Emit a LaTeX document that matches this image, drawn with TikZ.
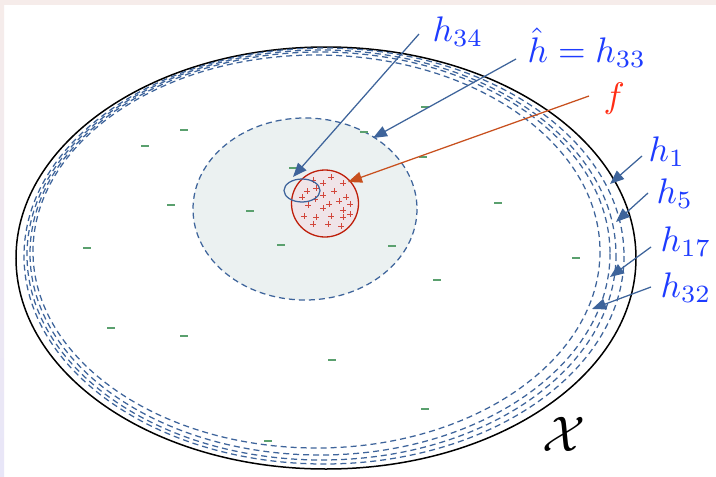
\documentclass[tikz,border=0pt]{standalone}
\usepackage{amsmath}
\usetikzlibrary{arrows.meta}
\definecolor{bandpink}{RGB}{246,236,234}
\definecolor{bandlav}{RGB}{232,230,248}
\definecolor{hblue}{RGB}{62,100,155}
\definecolor{lblue}{RGB}{30,60,255}
\definecolor{fred}{RGB}{255,45,20}
\definecolor{farrow}{RGB}{200,80,30}
\definecolor{circred}{RGB}{190,30,10}
\definecolor{circfill}{RGB}{240,228,232}
\definecolor{innerfill}{RGB}{235,241,241}
\definecolor{plusred}{RGB}{210,70,60}
\definecolor{minusgreen}{RGB}{90,160,110}
\tikzset{
  hdash/.style={draw=hblue, line width=1.25pt, dash pattern=on 6pt off 4pt},
  harrow/.style={draw=hblue, line width=1.25pt, -{Triangle[length=14pt,width=11pt]}},
  farr/.style={draw=farrow, line width=1.25pt, -{Triangle[length=14pt,width=11pt]}},
  lbl/.style={text=lblue, inner sep=0pt, anchor=base west, scale=3.55},
  pluss/.style={draw=plusred, line width=0.6pt},
  minuss/.style={draw=minusgreen, line width=1.2pt}
}
\begin{document}
\begin{tikzpicture}[x=1pt,y=-1pt]
\useasboundingbox (0,0) rectangle (716,477);
\fill[white] (0,0) rectangle (716,477);
\fill[bandpink] (0,0) rectangle (716,5);
\shade[top color=bandpink, bottom color=bandlav] (0,0) rectangle (4,477);
% outer space
\draw[black, line width=1.5pt] (326,258) ellipse [x radius=310, y radius=211];
% hypothesis ellipses
\draw[hdash] (324,256) ellipse [x radius=300, y radius=208];
\draw[hdash] (321.5,255) ellipse [x radius=294.5, y radius=205];
\draw[hdash] (320,253.5) ellipse [x radius=290, y radius=201.5];
\draw[hdash] (316.5,251.5) ellipse [x radius=283.5, y radius=196.5];
% inner region
\draw[hdash, fill=innerfill] (305,209) ellipse [x radius=112, y radius=91];
% minus signs
\foreach \p in {(184,130),(145,146),(171,205),(87,248),(111,328),(184,336),
  (364,132),(293,168),(250,211),(281,245),(392,246),(437,280),(425,107),
  (423,157),(425,409),(498,203),(576,258),(332,360),(268,441)}
  \draw[minuss] \p +(-4,0) -- +(4,0);
% target
\draw[circred, line width=1.3pt, fill=circfill] (325,203.5) circle [radius=33.5];
\foreach \p in {(313,180),(323,183),(331,177),(343,183),(307,191),(316,188),
  (334,191),(302,197),(315,199),(323,195),(346,197),(308,205),(329,204),
  (339,201),(350,204),(323,208),(343,210),(304,216),(316,217),(331,216),
  (343,217),(350,214),(313,224),(328,224),(341,226)}
  \draw[pluss] \p +(-3,0) -- +(3,0) \p +(0,-3) -- +(0,3);
% h34
\draw[draw=hblue, line width=1.25pt] (302,190.5) ellipse [x radius=18, y radius=11.5];
% labels
\node[lbl] (l34) at (432,41) {$h_{34}$};
\node[lbl] (l33) at (527,62) {$\hat{h}=h_{33}$};
\node[lbl, text=fred] (lf) at (603,107) {$f$};
\node[lbl] (l1) at (648,161) {$h_{1}$};
\node[lbl] (l5) at (656,203) {$h_{5}$};
\node[lbl] (l17) at (660,251) {$h_{17}$};
\node[lbl] (l32) at (660,297) {$h_{32}$};
\node[inner sep=0pt, scale=5] (lx) at (564,434) {$\mathcal{X}$};
% arrow coordinates
\coordinate (s34) at (419,34);  \coordinate (t34) at (293,177);
\coordinate (s33) at (516,59);  \coordinate (t33) at (373,138);
\coordinate (sf) at (589,96);   \coordinate (tf) at (348,182);
\coordinate (s1) at (642,156);  \coordinate (t1) at (610,184);
\coordinate (s5) at (648,193);  \coordinate (t5) at (616,222);
\coordinate (s17) at (651,247); \coordinate (t17) at (610,277);
\coordinate (s32) at (651,287); \coordinate (t32) at (592,309);
\draw[harrow] (s34) -- (t34);
\draw[harrow] (s33) -- (t33);
\draw[farr] (sf) -- (tf);
\draw[harrow] (s1) -- (t1);
\draw[harrow] (s5) -- (t5);
\draw[harrow] (s17) -- (t17);
\draw[harrow] (s32) -- (t32);
\end{tikzpicture}
\end{document}
